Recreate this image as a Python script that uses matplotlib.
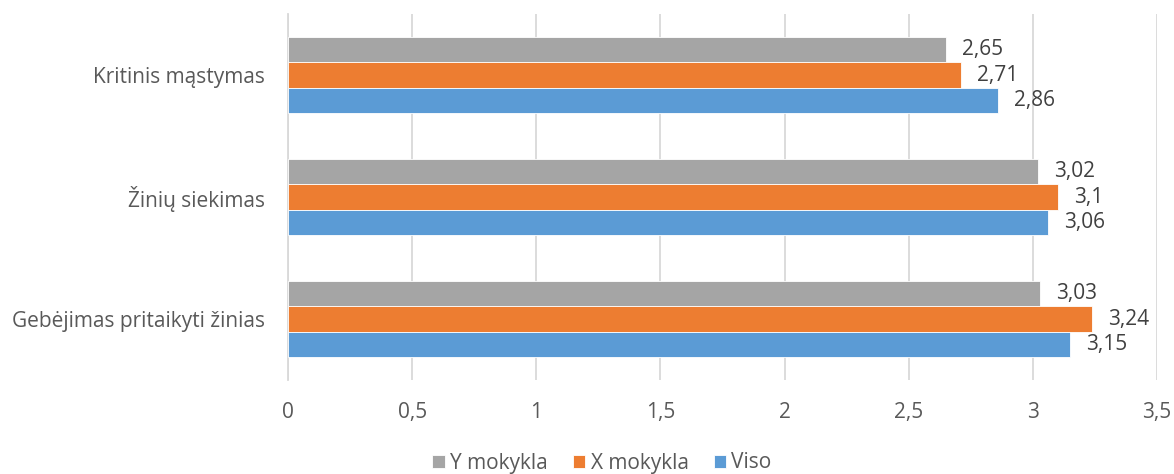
import matplotlib
matplotlib.use("Agg")
import matplotlib.pyplot as plt
import numpy as np
from matplotlib.ticker import FuncFormatter

categories = ["Kritinis mąstymas", "Žinių siekimas", "Gebėjimas pritaikyti žinias"]
series_names = ["Y mokykla", "X mokykla", "Viso"]
y_mokykla = [2.65, 3.02, 3.03]
x_mokykla = [2.71, 3.10, 3.24]
viso = [2.86, 3.06, 3.15]
xticks = [0, 0.5, 1, 1.5, 2, 2.5, 3, 3.5]

colors = ["#A5A5A5", "#ED7D31", "#5B9BD5"]
plt.rcParams['font.family'] = ['Open Sans', 'DejaVu Sans']
FS = 15

fig = plt.figure(figsize=(11.74, 4.74), dpi=100)
ax = fig.add_axes([288/1174, 94/474, (1157-288)/1174, (380-14)/474])

y = np.arange(len(categories))
h = 0.205
data = [y_mokykla, x_mokykla, viso]
for i, (name, vals, c) in enumerate(zip(series_names, data, colors)):
    pos = y + (i - 1) * h
    ax.barh(pos, vals, height=h, color=c, label=name, edgecolor="white", linewidth=0.6, zorder=3)
    for p, v in zip(pos, vals):
        txt = f"{v:g}".replace(".", ",")
        ax.annotate(txt, (v, p), xytext=(11.5, 0), textcoords="offset points",
                    va="center", ha="left", fontsize=FS, color="#404040")

ax.set_ylim(2.5, -0.5)
ax.set_xlim(0, 3.5)
ax.set_xticks(xticks)
ax.xaxis.set_major_formatter(FuncFormatter(lambda v, _: f"{v:g}".replace(".", ",")))
ax.set_yticks(y)
ax.set_yticklabels(categories)
ax.tick_params(axis="x", length=0, pad=16, labelsize=FS, colors="#595959")
ax.tick_params(axis="y", length=0, pad=16.5, labelsize=FS, colors="#595959")
ax.grid(axis="x", color="#D9D9D9", linewidth=1.3, zorder=0)
for s in ["top", "right", "bottom"]:
    ax.spines[s].set_visible(False)
ax.spines["left"].set_color("#D9D9D9")
ax.spines["left"].set_linewidth(1.3)

handles, labels = ax.get_legend_handles_labels()
fig.legend(handles, labels, loc="center", bbox_to_anchor=(602/1174, 11/474), ncol=3,
           frameon=False, fontsize=FS, handlelength=0.6, handleheight=0.6,
           handletextpad=0.25, columnspacing=1.2, labelcolor="#595959",
           borderpad=0.1)

fig.savefig("out.png", dpi=100)
